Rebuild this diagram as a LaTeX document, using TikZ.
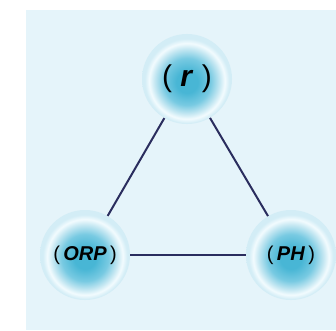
\documentclass[tikz,border=0pt]{standalone}
\usepackage{fontspec}
\setmainfont{Liberation Sans}
\definecolor{panel}{HTML}{E5F4FA}
\definecolor{edgec}{HTML}{2A2D5E}
\definecolor{cA}{HTML}{48B6D5}
\definecolor{cB}{HTML}{78CAE2}
\definecolor{cC}{HTML}{C4E7F2}
\definecolor{cD}{HTML}{F2FBFE}
\definecolor{cE}{HTML}{D3EDF6}
\pgfdeclareradialshading{ringball}{\pgfpoint{0bp}{-2bp}}{color(0bp)=(cA); color(6bp)=(cA); color(13bp)=(cB); color(18bp)=(cC); color(21bp)=(cD); color(23.5bp)=(cE); color(26bp)=(cE); color(50bp)=(panel)}
\tikzset{
  ball/.style={circle, shading=ringball, minimum size=90pt, inner sep=0pt, text=black},
  link/.style={draw=edgec, line width=2pt},
  big/.style={font=\fontsize{30}{32}\selectfont},
  small/.style={font=\fontsize{20}{22}\selectfont}
}
\begin{document}
\begin{tikzpicture}[x=1pt,y=1pt]
\useasboundingbox (0,0) rectangle (336,330);
\fill[panel] (26,0) rectangle (336,320);
\node[ball,big] (r) at (187,251) {( \textbf{\textit{r}} )};
\node[ball,small] (orp) at (85,75) {(\,\textbf{\textit{ORP}}\,)};
\node[ball,small] (ph) at (291,75) {(\,\textbf{\textit{PH}}\,)};
\draw[link] (r) -- (orp);
\draw[link] (r) -- (ph);
\draw[link] (orp) -- (ph);
\end{tikzpicture}
\end{document}
